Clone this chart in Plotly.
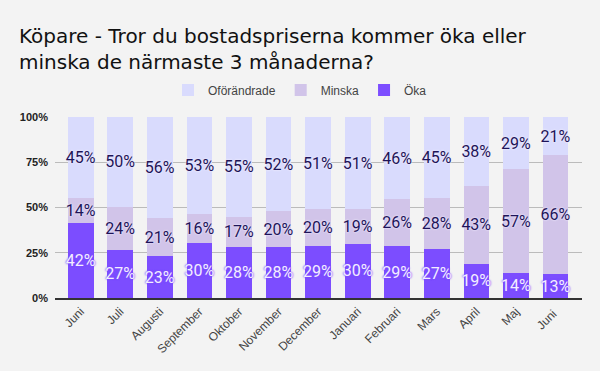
import plotly.graph_objects as go

months = ["Juni", "Juli", "Augusti", "September", "Oktober", "November", "December",
          "Januari", "Februari", "Mars", "April", "Maj", "Juni "]
oka = [42, 27, 23, 30, 28, 28, 29, 30, 29, 27, 19, 14, 13]
minska = [14, 24, 21, 16, 17, 20, 20, 19, 26, 28, 43, 57, 66]
oforandrade = [45, 50, 56, 53, 55, 52, 51, 51, 46, 45, 38, 29, 21]
y_ticks = [0, 25, 50, 75, 100]

series = [
    ("Öka", oka, "#7c4dff", "#f3eeff", "0px 0px 2px #7c4dff, 0px 0px 2px #7c4dff"),
    ("Minska", minska, "#d1c4e9", "#1e1458", "0px 0px 2px #ece8ff, 0px 0px 2px #ece8ff"),
    ("Oförändrade", oforandrade, "#d9dbfd", "#1e1458", "0px 0px 2px #f0eeff, 0px 0px 2px #f0eeff"),
]

fig = go.Figure()
for name, vals, color, tcolor, shadow in series:
    fig.add_trace(go.Bar(
        name=name, x=months, y=vals, marker=dict(color=color, line=dict(width=0)),
        text=vals, texttemplate="%{text}%", textposition="inside",
        insidetextanchor="middle", constraintext="none", textangle=0,
        textfont=dict(family="Roboto", size=16, color=tcolor, shadow=shadow),
        hoverinfo="skip",
    ))

fig.update_layout(
    barmode="stack", barnorm="percent", bargap=0.35,
    width=600, height=371,
    paper_bgcolor="#f3f3f3", plot_bgcolor="#f3f3f3",
    margin=dict(l=55, r=18, t=117, b=73, autoexpand=False),
    title=dict(
        text="Köpare - Tror du bostadspriserna kommer öka eller<br>minska de närmaste 3 månaderna?",
        font=dict(family="DejaVu Sans", size=20, color="#111111"),
        xref="container", x=19 / 600, xanchor="left",
        yref="container", y=1 - 43 / 371, yanchor="top",
    ),
    legend=dict(
        orientation="h", traceorder="reversed",
        xref="container", x=0.5, xanchor="center",
        yref="container", y=1 - 90 / 371, yanchor="middle",
        font=dict(family="Liberation Sans", size=12, color="#444444"),
        bgcolor="rgba(0,0,0,0)",
    ),
    showlegend=True,
)
fig.update_xaxes(
    range=[-0.65, 12.67], tickangle=-45, automargin=False,
    tickfont=dict(family="Liberation Sans", size=12, color="#444444"),
    showgrid=False, showline=True, linecolor="#333333", linewidth=1.5,
    ticks="", fixedrange=True,
)
fig.update_yaxes(
    range=[0, 100], tickvals=y_ticks, ticktext=[f"{t}%" for t in y_ticks],
    automargin=False,
    tickfont=dict(family="Liberation Sans", size=11, color="#222222", weight="bold"),
    showgrid=True, gridcolor="#bbbbbb", gridwidth=1, zeroline=False,
    ticks="", ticklabelstandoff=6, fixedrange=True,
)

fig.write_html("out.html", config={"displayModeBar": False},
               post_script="document.body.style.margin='0px';")
